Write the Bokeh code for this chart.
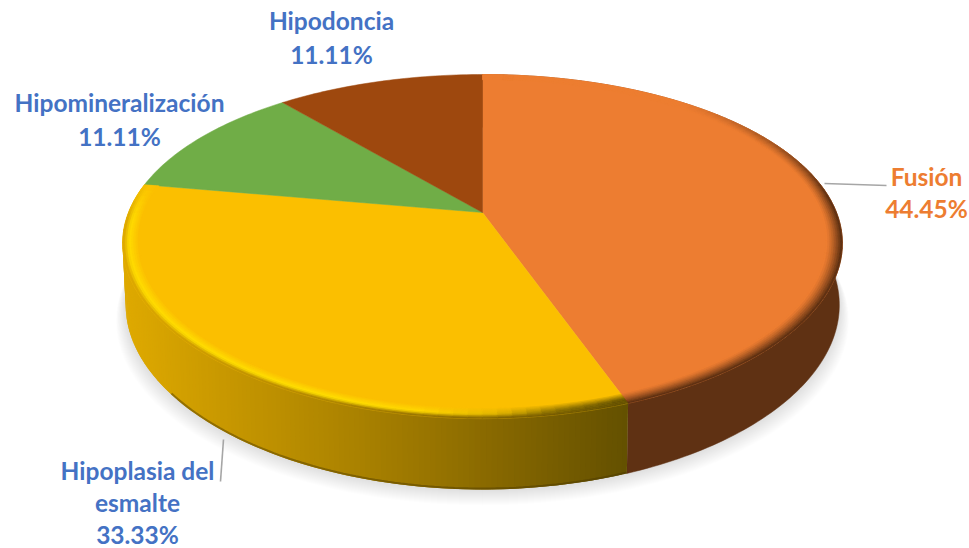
import numpy as np
from bokeh.core.properties import value
from bokeh.embed import file_html
from bokeh.models import ColumnDataSource, Range1d
from bokeh.plotting import figure
from bokeh.resources import INLINE

# Share of each finding, in percent, clockwise from twelve o'clock
categories = ["Fusión", "Hipoplasia del esmalte", "Hipomineralización", "Hipodoncia"]
values = [44.45, 33.33, 11.11, 11.11]
slice_colors = ["#ED7D31", "#FBBF00", "#70AD47", "#9E480E"]
label_colors = ["#ED7D31", "#4472C4", "#4472C4", "#4472C4"]

# Label lines, their pixel anchors and line spacing
label_lines = [["Fusión"], ["Hipoplasia del", "esmalte"], ["Hipomineralización"], ["Hipodoncia"]]
label_centers = [(926, 176), (137, 470), (119, 102), (331, 20)]
label_steps = [32, 32, 34, 34]
leaders = [((824, 183), (886, 185)), ((223, 439), (220, 481))]

# Perspective of the disc: top plane and bottom plane
CX = 482
TOP = dict(cy=212.0, a=165.3, b=354.0, k=0.198, kx=0.18)
BOTTOM = dict(cy=272.0, a=174.0, b=351.0, k=0.198, kx=0.18)


def project(theta_deg, r, plane):
    t = np.radians(theta_deg)
    u, v = r * np.sin(t), r * np.cos(t)
    return (CX + plane["b"] * u / (1 + plane["kx"] * v),
            plane["cy"] - plane["a"] * v / (1 + plane["k"] * v))


def hex2rgb(c):
    c = c.lstrip("#")
    return np.array([int(c[i:i + 2], 16) for i in (0, 2, 4)], float)


def mix(c1, c2, t):
    rgb = hex2rgb(c1) * (1 - t) + hex2rgb(c2) * t
    return "#%02x%02x%02x" % tuple(int(round(x)) for x in rgb)


def ramp(x, stops):
    xs = [s[0] for s in stops]
    x = min(max(x, xs[0]), xs[-1])
    for (x0, c0), (x1, c1) in zip(stops, stops[1:]):
        if x <= x1:
            return mix(c0, c1, (x - x0) / (x1 - x0))
    return stops[-1][1]


# Colour of the side wall, running left to right along the yellow slice
yellow_wall = [(120, "#dfaa00"), (220, "#c89800"), (340, "#ad8400"),
               (440, "#957200"), (540, "#7a5f00"), (627, "#635000")]
orange_wall = "#5f3113"


def band_color(i, theta, x, f):
    """Colour across the rounded edge; f runs from 0 on the face to 1 at the wall."""
    face = slice_colors[i]
    if i == 0:
        s = float(np.clip((theta - 40) / 45, 0, 1))
        return mix(face, orange_wall, s * f ** 1.3)
    if i == 1:
        s = float(np.clip((282 - theta) / 14, 0, 1))
        ridge = ramp(theta, [(160, "#635000"), (170, "#8f7300"), (178, "#e0b400"),
                             (188, "#ffd800"), (200, "#ffe000"), (285, "#ffdc00")])
        wall = ramp(x, yellow_wall)
        if f < 0.65:
            return mix(face, ridge, s * f / 0.65)
        return mix(mix(face, ridge, s), wall, s * (f - 0.65) / 0.35)
    return face


p = figure(width=969, height=548, output_backend="svg", toolbar_location=None,
           x_range=Range1d(0, 969), y_range=Range1d(548, 0),
           min_border=0, outline_line_color=None)
p.axis.visible = False
p.grid.visible = False

edges = np.concatenate([[0], np.cumsum(values)]) / sum(values) * 360.0

# Soft shadow on the ground, under the base of the disc
for d in range(1, 17):
    arc = np.linspace(0, 360, 181)
    sx, sy = project(arc, 1.0, dict(BOTTOM, b=BOTTOM["b"] + d * 0.6))
    p.patch(sx, sy + d * 1.0, fill_color="#000000", fill_alpha=0.008, line_color=None)

# Side wall of the orange slice is one flat piece
th = np.linspace(edges[0], edges[1], 161)
tx, ty = project(th, 1, TOP)
bx, by = project(th[::-1], 1, BOTTOM)
p.patch(np.r_[tx, bx], np.r_[ty, by], fill_color=orange_wall, line_color=orange_wall, line_width=0.5)

# Side wall of the yellow slice: overlapping strips drawn one after another
wall_x, wall_y, wall_c = [], [], []
th = np.arange(edges[1], edges[2] + 1e-6, 0.75)
for a0 in th:
    a1 = min(a0 + 1.5, edges[2])
    x0t, y0t = project(a0, 1, TOP)
    x1t, y1t = project(a1, 1, TOP)
    x0b, y0b = project(a0, 1, BOTTOM)
    x1b, y1b = project(a1, 1, BOTTOM)
    wall_x.append([x0t, x1t, x1b, x0b])
    wall_y.append([y0t, y1t, y1b, y0b])
    wall_c.append(ramp((x0t + x1t) / 2, yellow_wall))
p.patches("xs", "ys", source=ColumnDataSource(dict(xs=wall_x, ys=wall_y, c=wall_c)),
          fill_color="c", line_color=None)

# Dark fringe along the foot of the yellow wall
th = np.linspace(edges[1], 232, 80)
fx, fy = project(th, 1, BOTTOM)
p.line(fx, fy - 1, line_color="#4a3800", line_alpha=0.45, line_width=2)

# Flat top faces of the four slices
for start, end, color in zip(edges[:-1], edges[1:], slice_colors):
    th = np.linspace(start, end, int(end - start) + 2)
    ox, oy = project(th, 1, TOP)
    p.patch(np.r_[CX, ox], np.r_[TOP["cy"], oy], fill_color=color, line_color=color, line_width=0.5)

# Rounded edge of the top face, built from thin rings blending into the rim colour
BANDS = 8
WIDTH = 0.045
ring_x, ring_y, ring_c = [], [], []
for b in range(BANDS - 1, -1, -1):
    r_in = 1 - WIDTH * (b + 1) / BANDS
    r_out = 1 - WIDTH * b / BANDS
    f = (BANDS - 1 - b) / (BANDS - 1)
    for i, (start, end) in enumerate(zip(edges[:2], edges[1:3])):
        th = np.arange(start, end + 1e-6, 2.0)
        if th[-1] < end:
            th = np.append(th, end)
        for a0, a1 in zip(th[:-1], th[1:]):
            mid = (a0 + a1) / 2
            x0, y0 = project(a0, r_in, TOP)
            x1, y1 = project(a1, r_in, TOP)
            x2, y2 = project(a1, r_out, TOP)
            x3, y3 = project(a0, r_out, TOP)
            ring_x.append([x0, x1, x2, x3])
            ring_y.append([y0, y1, y2, y3])
            ring_c.append(band_color(i, mid, (x2 + x3) / 2, f))
p.patches("xs", "ys", source=ColumnDataSource(dict(xs=ring_x, ys=ring_y, c=ring_c)),
          fill_color="c", line_color="c", line_width=0.6)

# Leader lines
for (a, b) in leaders:
    p.line([a[0], b[0]], [a[1], b[1]], line_color="#a6a6a6", line_width=1.6)

# Labels: name lines followed by the percentage
for lines, (cx, cy), step, val, color in zip(label_lines, label_centers, label_steps, values, label_colors):
    rows = lines + ["%.2f%%" % val]
    ys = [cy + step * n for n in range(len(rows))]
    p.text([cx] * len(rows), ys, text=rows, text_font=value("Lato"), text_font_style="bold",
           text_font_size="24.5px", text_align="center", text_baseline="middle", text_color=color)

open("out.html", "w").write(file_html(p, INLINE))
